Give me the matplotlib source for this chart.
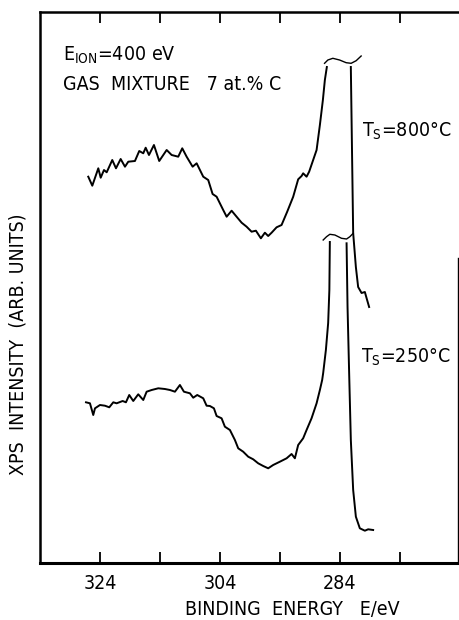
import matplotlib
matplotlib.use("Agg")
import matplotlib.pyplot as plt

plt.rcParams['font.family'] = ['DejaVu Sans']
plt.rcParams['font.stretch'] = 'condensed'
plt.rcParams['mathtext.fontset'] = 'custom'
plt.rcParams['mathtext.rm'] = 'DejaVu Sans:stretch=condensed'

# binding energy (eV) / intensity (arb.)
# Ts = 800 C, left part up to the cut peak
e800_a = [325.95, 325.28, 324.28, 323.88, 323.33, 322.88, 321.95, 321.33, 320.55, 319.83,
          319.28, 318.17, 317.45, 316.78, 316.38, 315.83, 315.0, 314.12, 312.88, 312.05,
          310.95, 310.28, 309.55, 308.55, 307.88, 306.78, 305.95, 305.22, 304.55, 303.45,
          302.88, 302.05, 301.22, 300.38, 299.55, 298.72, 298.0, 297.17, 296.5, 295.95,
          295.38, 294.55, 293.72, 292.78, 291.78, 290.95, 290.38, 290.12, 289.55, 289.12,
          287.88, 287.33, 286.83, 286.5, 286.17]
i800_a = [386.3, 377.3, 394.7, 385.3, 393, 390.7, 403, 394.7, 404, 396.3,
          401.3, 402, 412, 409.7, 415.3, 408, 418, 402, 413, 408,
          406.3, 414.7, 406.3, 396.3, 399.7, 386.3, 383, 369, 366.3, 353,
          346.3, 352.3, 346.3, 340.3, 336.3, 331.3, 332.3, 324.7, 330.3, 327,
          330.3, 335.7, 338, 351.3, 366.3, 383.7, 387, 389.7, 386.3, 391.3,
          413, 438, 463, 483, 496]
# Ts = 800 C, right flank after the peak
e800_b = [282.17, 281.78, 281.33, 280.95, 280.38, 279.83, 279.55, 279.12]
i800_b = [496, 330, 296, 276, 270, 271, 265, 256]

# Ts = 250 C
e250_a = [326.33, 325.67, 325.12, 324.83, 324.0, 323.17, 322.45, 321.78, 321.22, 320.22,
          319.67, 319.12, 318.45, 317.62, 316.78, 316.22, 315.38, 314.28, 313.17, 312.33,
          311.5, 310.67, 310.0, 309.0, 308.45, 307.78, 306.78, 306.22, 305.67, 305.0,
          304.55, 303.72, 303.17, 302.33, 301.5, 300.95, 300.12, 299.28, 298.45, 297.62,
          296.78, 295.95, 295.12, 294.0, 292.88, 292.05, 291.5, 290.95, 290.12, 289.55,
          288.72, 287.88, 287.33, 286.95, 286.78, 286.33, 285.95, 285.75, 285.67]
i250_a = [160.7, 159.7, 148, 154.7, 158, 157.3, 155.7, 160.7, 159.7, 162,
          160.7, 168, 162, 168.7, 163, 171.3, 173, 174.7, 174, 173,
          171.3, 178, 171.3, 169.7, 165.3, 168, 164.7, 157.3, 157, 154.7,
          147, 144.7, 136.3, 133, 123, 114.7, 111.3, 106.3, 103.7, 99.7,
          97, 94.7, 98, 101.3, 104.7, 109, 104.7, 118, 124.7, 133,
          144.7, 159.7, 173, 183, 190, 213, 240, 273, 321]
e250_b = [282.88, 282.72, 282.45, 282.17, 281.78, 281.33, 280.67, 279.83, 279.28, 278.45]
i250_b = [319.7, 256.3, 189.7, 123, 73, 46.3, 34.7, 32.3, 33.7, 33]

# "~" break marks over the cut peaks
brk800_e = [286.55, 286.0, 285.17, 284.05, 282.95, 282.12, 281.28, 280.45]
brk800_i = [499.7, 503, 504.7, 503, 500.3, 499.7, 502.3, 507]
brk250_e = [286.78, 286.22, 285.67, 284.83, 283.72, 282.88, 282.33, 281.78]
brk250_i = [323, 326.3, 328.7, 328, 324.7, 324, 326.3, 329.7]

xticks = [324, 314, 304, 294, 284, 274]
xticklabels = ['324', '', '304', '', '284', '']

W, H = 459, 620
fig = plt.figure(figsize=(W / 100, H / 100), dpi=100)
ax = fig.add_axes([40 / W, 1 - 563 / H, 418 / W, 551 / H])

lw = 1.4
for e, i in [(e800_a, i800_a), (e800_b, i800_b), (e250_a, i250_a), (e250_b, i250_b)]:
    ax.plot(e, i, color='black', lw=lw, solid_joinstyle='round')
ax.plot(brk800_e, brk800_i, color='black', lw=1.0)
ax.plot(brk250_e, brk250_i, color='black', lw=1.0)

ax.set_xlim(334, 264.3)
ax.set_ylim(0, 551)
ax.set_yticks([])
ax.set_xticks(xticks)
ax.set_xticklabels(xticklabels, fontsize=14)
ax.tick_params(axis='x', direction='in', length=8, width=1.3, top=True, pad=8)
for s in ['left', 'bottom', 'top']:
    ax.spines[s].set_linewidth(1.8)
ax.spines['bottom'].set_linewidth(2.2)
ax.spines['right'].set_linewidth(1.0)
ax.spines['right'].set_bounds(0, 305)


def fpos(x, y):
    return x / W, 1 - y / H


fig.text(*fpos(63, 61), r'E$_{\mathregular{ION}}$=400 eV', fontsize=14, va='baseline')
fig.text(*fpos(63, 90), 'GAS  MIXTURE   7 at.% C', fontsize=14, va='baseline')
fig.text(*fpos(362, 137), r'T$_{\mathregular{S}}$=800°C', fontsize=14, va='baseline')
fig.text(*fpos(361, 363), r'T$_{\mathregular{S}}$=250°C', fontsize=14, va='baseline')
fig.text(*fpos(18, 344), 'XPS  INTENSITY  (ARB. UNITS)', fontsize=14,
         rotation=90, ha='center', va='center')
fig.text(*fpos(292, 615), 'BINDING  ENERGY   E/eV', fontsize=14, ha='center', va='baseline')

fig.savefig('out.png', dpi=100)
